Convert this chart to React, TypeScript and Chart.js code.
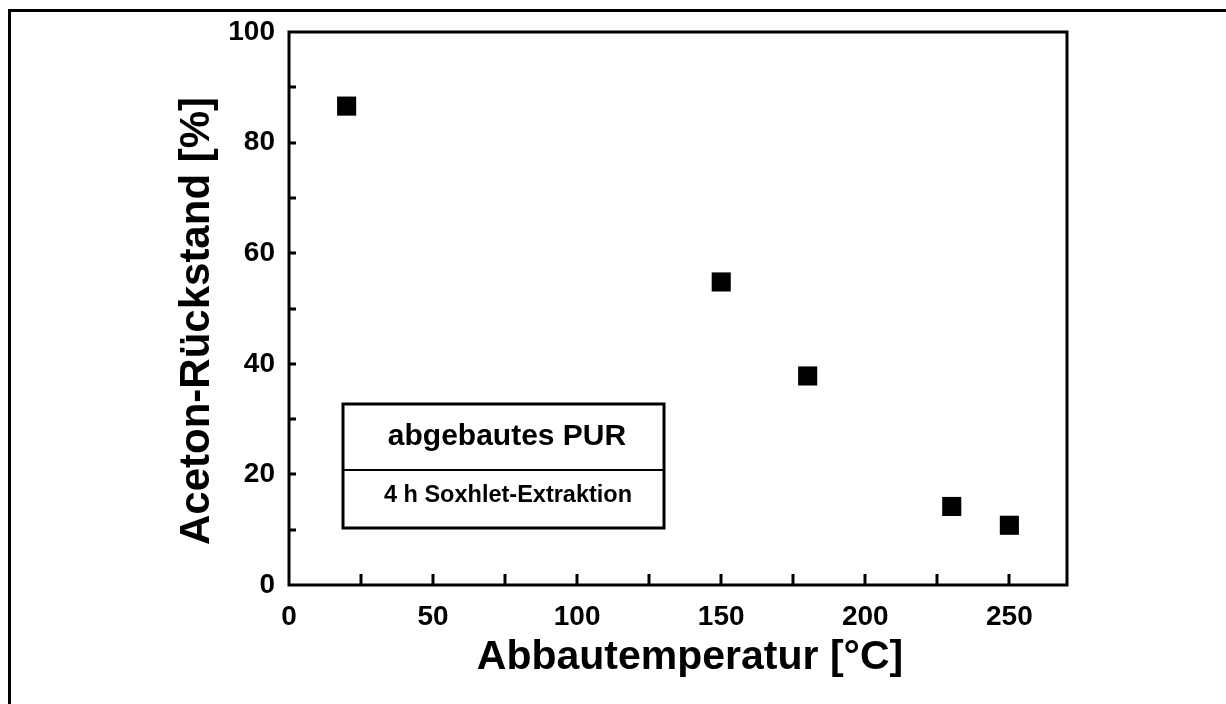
import React, { useEffect, useRef } from "react";
import { Chart, registerables } from "chart.js";

Chart.register(...registerables);

const temperatures = [20, 150, 180, 230, 250];
const residues = [86.6, 54.8, 37.8, 14.2, 10.8];
const xTitle = "Abbautemperatur [°C]";
const yTitle = "Aceton-Rückstand [%]";
const legendTitle = "abgebautes PUR";
const legendSub = "4 h Soxhlet-Extraktion";

const FONT = "'Liberation Sans', Arial, Helvetica, sans-serif";

const decorPlugin = {
  id: "decor",
  afterDraw(chart: any) {
    const { ctx, chartArea } = chart;
    const { left, right, top, bottom } = chartArea;
    const xs = chart.scales.x;
    const ys = chart.scales.y;
    ctx.save();
    ctx.strokeStyle = "#000";
    ctx.fillStyle = "#000";
    // inward ticks
    ctx.lineWidth = 3;
    xs.ticks.forEach((t: any) => {
      if (t.value <= xs.min || t.value >= xs.max) return;
      const px = Math.round(xs.getPixelForValue(t.value));
      ctx.beginPath();
      ctx.moveTo(px, bottom);
      ctx.lineTo(px, bottom - 11);
      ctx.stroke();
    });
    ys.ticks.forEach((t: any) => {
      if (t.value <= ys.min || t.value >= ys.max) return;
      const py = Math.round(ys.getPixelForValue(t.value));
      ctx.beginPath();
      ctx.moveTo(left, py);
      ctx.lineTo(left + 7, py);
      ctx.stroke();
    });
    // frame
    ctx.lineWidth = 3;
    ctx.strokeRect(left, top, right - left, bottom - top);

    // axis titles
    ctx.font = `bold 41px ${FONT}`;
    ctx.textAlign = "center";
    ctx.textBaseline = "alphabetic";
    ctx.fillText(xTitle, 690, 669);
    ctx.save();
    ctx.translate(209, 321);
    ctx.rotate(-Math.PI / 2);
    ctx.font = `bold 42px ${FONT}`;
    ctx.fillText(yTitle, 0, 0);
    ctx.restore();

    // legend box
    ctx.lineWidth = 3;
    ctx.strokeRect(343, 404, 321, 124);
    ctx.lineWidth = 2;
    ctx.beginPath();
    ctx.moveTo(343, 470);
    ctx.lineTo(664, 470);
    ctx.stroke();
    ctx.font = `bold 30px ${FONT}`;
    ctx.fillText(legendTitle, 507, 445);
    ctx.font = `bold 23.5px ${FONT}`;
    ctx.fillText(legendSub, 508, 502);
    ctx.restore();
  },
};

export default function App() {
  const ref = useRef<HTMLCanvasElement | null>(null);
  useEffect(() => {
    if (!ref.current) return;
    const chart = new Chart(ref.current, {
      type: "scatter",
      data: {
        datasets: [
          {
            data: temperatures.map((t, i) => ({ x: t, y: residues[i] })),
            pointStyle: "rect",
            radius: 13.5,
            backgroundColor: "#000",
            borderColor: "#000",
            borderWidth: 0,
          },
        ],
      },
      options: {
        animation: false,
        responsive: false,
        devicePixelRatio: 1,
        layout: { padding: { top: 32, right: 159, left: 0, bottom: 0 } },
        plugins: { legend: { display: false }, tooltip: { enabled: false } },
        scales: {
          x: {
            type: "linear",
            min: 0,
            max: 270,
            grid: { display: false, drawTicks: false },
            border: { display: false },
            afterFit: (s: any) => {
              s.height = 119;
            },
            ticks: {
              stepSize: 25,
              includeBounds: false,
              autoSkip: false,
              maxRotation: 0,
              padding: 15,
              color: "#000",
              font: { family: FONT, weight: "bold", size: 28 },
              callback: (v: any) => (Number(v) % 50 === 0 ? String(v) : ""),
            },
          },
          y: {
            type: "linear",
            min: 0,
            max: 100,
            grid: { display: false, drawTicks: false },
            border: { display: false },
            afterFit: (s: any) => {
              s.width = 289;
            },
            ticks: {
              stepSize: 10,
              autoSkip: false,
              padding: 14,
              color: "#000",
              font: { family: FONT, weight: "bold", size: 28 },
              callback: (v: any) => (Number(v) % 20 === 0 ? String(v) : ""),
            },
          },
        },
      },
      plugins: [decorPlugin],
    });
    return () => chart.destroy();
  }, []);

  return (
    <div>
      <div
        style={{
          position: "fixed",
          left: 8,
          top: 9,
          width: 1218,
          height: 695,
          borderLeft: "3px solid #000",
          borderTop: "3px solid #000",
          boxSizing: "border-box",
        }}
      />
      <canvas
        ref={ref}
        width={1226}
        height={704}
        style={{ position: "fixed", left: 0, top: 0, width: 1226, height: 704 }}
      />
    </div>
  );
}
